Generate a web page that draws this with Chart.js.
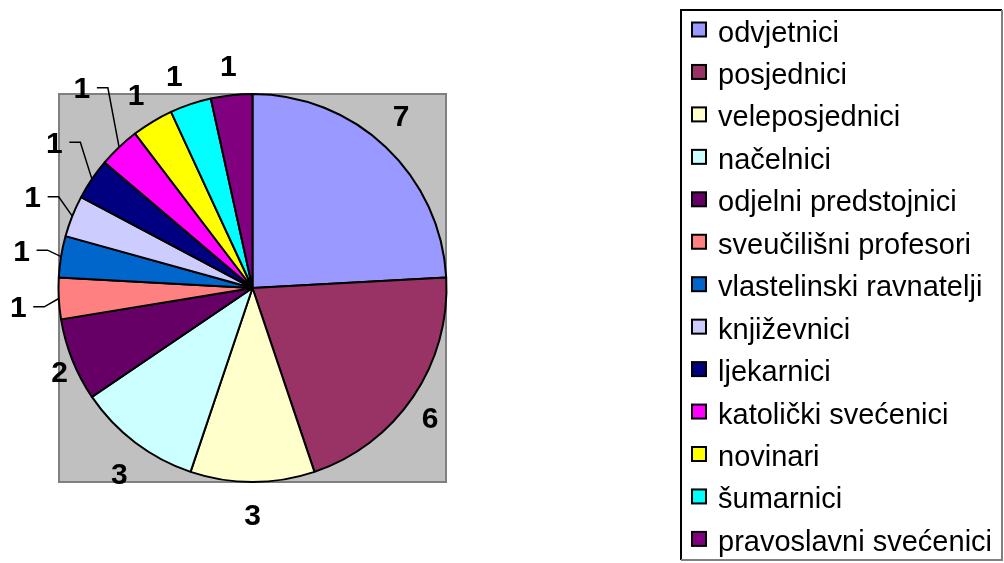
<!DOCTYPE html>
<html>
<head>
<meta charset="utf-8">
<script src="https://cdn.jsdelivr.net/npm/chart.js@4"></script>
<style>
  body { margin: 0; background: #fff; }
  canvas { display: block; }
</style>
</head>
<body>
<canvas id="grafica" width="1004" height="563"></canvas>
<script>
const kategorije = [
  "odvjetnici", "posjednici", "veleposjednici", "načelnici",
  "odjelni predstojnici", "sveučilišni profesori", "vlastelinski ravnatelji",
  "književnici", "ljekarnici", "katolički svećenici", "novinari",
  "šumarnici", "pravoslavni svećenici"
];
const broj = [7, 6, 3, 3, 2, 1, 1, 1, 1, 1, 1, 1, 1];
const boje = [
  "#9999FF", "#993366", "#FFFFCC", "#CCFFFF", "#660066", "#FF8080", "#0066CC",
  "#CCCCFF", "#000080", "#FF00FF", "#FFFF00", "#00FFFF", "#800080"
];

// label placement tweaks (extra distance px, angle shift deg) to mimic excel best fit
const pomak = [2, -6, 0, 2, -16, 9, 8, 12, 20, 37, 0, 0, -2];
const zakret = [-2.8, 2, 0, -1.5, -1.6, -1.5, 0, 0.8, 2.2, 3, 0, -1.6, 0];
const vodilice = [5, 6, 7, 8, 9];

const pozadina = {
  id: "pozadina",
  beforeDatasetsDraw(chart) {
    const { ctx, chartArea: a } = chart;
    ctx.save();
    ctx.fillStyle = "#C0C0C0";
    ctx.fillRect(a.left + 1.5, a.top + 1, a.width - 3, a.height - 2);
    ctx.strokeStyle = "#808080";
    ctx.lineWidth = 2;
    ctx.strokeRect(a.left + 1.5, a.top + 1, a.width - 3, a.height - 2);
    ctx.restore();
  }
};

const oznake = {
  id: "oznake",
  afterDatasetsDraw(chart) {
    const { ctx } = chart;
    const meta = chart.getDatasetMeta(0);
    ctx.save();
    ctx.font = "bold 30px 'Liberation Sans', Arial, sans-serif";
    ctx.textAlign = "center";
    ctx.textBaseline = "alphabetic";
    ctx.fillStyle = "#000";
    ctx.strokeStyle = "#000";
    ctx.lineWidth = 1.5;
    meta.data.forEach((arc, i) => {
      const { x, y, startAngle, endAngle, outerRadius } = arc.getProps(["x", "y", "startAngle", "endAngle", "outerRadius"], true);
      const mid = (startAngle + endAngle) / 2;
      const a = mid + zakret[i] * Math.PI / 180;
      const d = outerRadius + 32 + pomak[i];
      const lx = x + Math.cos(a) * d;
      const ly = y + Math.sin(a) * d;
      ctx.fillText(String(broj[i]), lx, ly + 10.5);
      if (vodilice.includes(i)) {
        const ex = x + Math.cos(mid) * outerRadius;
        const ey = y + Math.sin(mid) * outerRadius;
        ctx.beginPath();
        ctx.moveTo(lx + 15, ly);
        ctx.lineTo(lx + 26, ly);
        ctx.lineTo(ex, ey);
        ctx.stroke();
      }
    });
    ctx.restore();
  }
};

const legenda = {
  id: "legenda",
  afterDraw(chart) {
    const { ctx } = chart;
    const bx = 681, by = 10, bw = 321, bh = 550;
    ctx.save();
    ctx.fillStyle = "#fff";
    ctx.fillRect(bx, by, bw, bh);
    ctx.lineWidth = 2;
    ctx.strokeStyle = "#000";
    ctx.beginPath();
    ctx.moveTo(bx, by + bh);
    ctx.lineTo(bx, by);
    ctx.lineTo(bx + bw, by);
    ctx.stroke();
    ctx.strokeStyle = "#808080";
    ctx.beginPath();
    ctx.moveTo(bx + bw, by);
    ctx.lineTo(bx + bw, by + bh);
    ctx.lineTo(bx, by + bh);
    ctx.stroke();

    ctx.font = "29px 'Liberation Sans', Arial, sans-serif";
    ctx.textAlign = "left";
    ctx.textBaseline = "alphabetic";
    kategorije.forEach((k, i) => {
      const cy = 34 + i * 42.45;
      ctx.fillStyle = boje[i];
      ctx.fillRect(692, cy - 11.5, 14, 14);
      ctx.strokeStyle = "#000";
      ctx.lineWidth = 2;
      ctx.strokeRect(692, cy - 11.5, 14, 14);
      ctx.fillStyle = "#000";
      ctx.fillText(k, 718, cy + 7.5);
    });
    ctx.restore();
  }
};

new Chart(document.getElementById("grafica"), {
  type: "pie",
  data: {
    labels: kategorije,
    datasets: [{
      data: broj,
      backgroundColor: boje,
      borderColor: "#000",
      borderWidth: 2
    }]
  },
  options: {
    responsive: false,
    animation: false,
    layout: { padding: { left: 57.5, top: 93, right: 556.5, bottom: 80 } },
    plugins: {
      legend: { display: false },
      tooltip: { enabled: false }
    }
  },
  plugins: [pozadina, oznake, legenda]
});
</script>
</body>
</html>
